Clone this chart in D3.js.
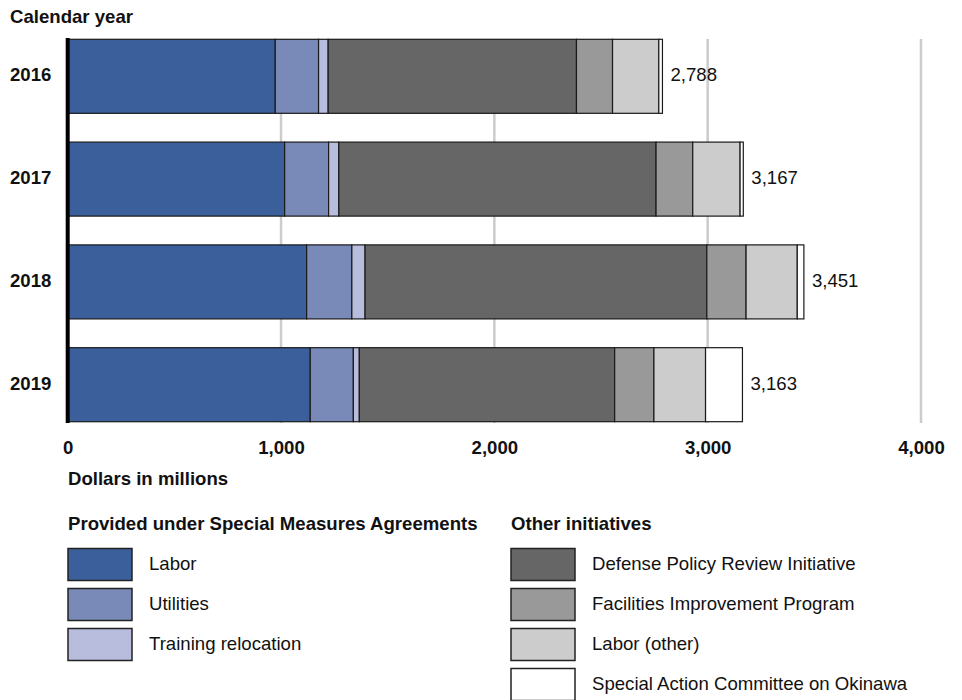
<!DOCTYPE html>
<html>
<head>
<meta charset="utf-8">
<script src="https://cdn.jsdelivr.net/npm/d3@7/dist/d3.min.js"></script>
<style>
  body { margin: 0; background: #fff; }
  svg { display: block; font-family: "Liberation Sans", Arial, sans-serif; }
</style>
</head>
<body>
<svg id="chart" width="962" height="700"></svg>
<script>
// ---- data ----
const years = ["2016", "2017", "2018", "2019"];
const labor = [973, 1017, 1120, 1137];
const utilities = [203, 206, 212, 202];
const trainingRelocation = [45, 48, 62, 28];
const dpri = [1164, 1487, 1602, 1197];
const fip = [169, 172, 184, 184];
const laborOther = [217, 222, 240, 242];
const saco = [17, 15, 31, 173];
const totals = [2788, 3167, 3451, 3163];
const xTicks = [0, 1000, 2000, 3000, 4000];

const seriesNames = ["Labor", "Utilities", "Training relocation",
  "Defense Policy Review Initiative", "Facilities Improvement Program",
  "Labor (other)", "Special Action Committee on Okinawa"];
const seriesValues = [labor, utilities, trainingRelocation, dpri, fip, laborOther, saco];
const seriesColors = ["#3a5f9b", "#7a8ab8", "#b8bcdd", "#666666", "#999999", "#cccccc", "#ffffff"];
const groupSMA = "Provided under Special Measures Agreements";
const groupOther = "Other initiatives";

const FS = 18.6;

// ---- build table ----
const rows = years.map((y, i) => {
  const r = { year: y, total: totals[i] };
  seriesNames.forEach((n, j) => r[n] = seriesValues[j][i]);
  return r;
});
const stacked = d3.stack().keys(seriesNames)(rows);

const svg = d3.select("#chart");
const x = d3.scaleLinear().domain([0, 4000]).range([67.7, 921]);
const y = d3.scaleBand().domain(years).range([39.3, 421.7]).paddingInner(0.28).paddingOuter(0);
const color = d3.scaleOrdinal().domain(seriesNames).range(seriesColors);

// gridlines
svg.append("g").selectAll("line")
  .data(xTicks.filter(t => t > 0))
  .join("line")
  .attr("x1", d => x(d)).attr("x2", d => x(d))
  .attr("y1", 39).attr("y2", 423)
  .attr("stroke", "#cccccc").attr("stroke-width", 2.5);

// bars
svg.append("g").selectAll("g")
  .data(stacked)
  .join("g")
  .attr("fill", d => color(d.key))
  .selectAll("rect")
  .data(d => d)
  .join("rect")
  .attr("x", d => x(d[0]))
  .attr("width", d => x(d[1]) - x(d[0]))
  .attr("y", d => y(d.data.year))
  .attr("height", y.bandwidth())
  .attr("stroke", "#1a1a1a")
  .attr("stroke-width", 1.2);

// vertical axis line
svg.append("line")
  .attr("x1", x(0)).attr("x2", x(0))
  .attr("y1", 38).attr("y2", 423)
  .attr("stroke", "#000").attr("stroke-width", 4);

// year labels
svg.append("g").selectAll("text")
  .data(years)
  .join("text")
  .attr("x", 10)
  .attr("y", d => y(d) + y.bandwidth() / 2 - 1.5)
  .attr("dy", "0.35em")
  .attr("font-size", FS).attr("font-weight", "bold").attr("fill", "#111")
  .text(d => d);

// total labels
svg.append("g").selectAll("text")
  .data(rows)
  .join("text")
  .attr("x", d => x(d.total) + 8)
  .attr("y", d => y(d.year) + y.bandwidth() / 2 - 1.5)
  .attr("dy", "0.35em")
  .attr("font-size", FS).attr("fill", "#111")
  .text(d => d3.format(",")(d.total));

// x axis
const xAxis = svg.append("g")
  .attr("transform", "translate(0,441)")
  .call(d3.axisBottom(x).tickValues(xTicks).tickFormat(d3.format(",")).tickSize(0).tickPadding(0));
xAxis.select(".domain").remove();
xAxis.selectAll("text")
  .attr("font-size", FS).attr("font-weight", "bold").attr("fill", "#111")
  .attr("font-family", "Liberation Sans, Arial, sans-serif");

// titles
svg.append("text").attr("x", 10).attr("y", 23)
  .attr("font-size", FS).attr("font-weight", "bold").attr("fill", "#111")
  .text("Calendar year");
svg.append("text").attr("x", 68).attr("y", 485)
  .attr("font-size", FS).attr("font-weight", "bold").attr("fill", "#111")
  .text("Dollars in millions");

// legend
const legendGroups = [
  { title: groupSMA, x: 68, items: seriesNames.slice(0, 3) },
  { title: groupOther, x: 511, items: seriesNames.slice(3) }
];
legendGroups.forEach(g => {
  const lg = svg.append("g");
  lg.append("text").attr("x", g.x).attr("y", 530)
    .attr("font-size", FS).attr("font-weight", "bold").attr("fill", "#111")
    .text(g.title);
  const it = lg.selectAll("g.item").data(g.items).join("g")
    .attr("transform", (d, i) => `translate(${g.x},${548.5 + i * 40})`);
  it.append("rect")
    .attr("width", 64).attr("height", 32)
    .attr("fill", d => color(d))
    .attr("stroke", "#222").attr("stroke-width", 1.5);
  it.append("text")
    .attr("x", 81).attr("y", 14.5).attr("dy", "0.35em")
    .attr("font-size", FS).attr("fill", "#111")
    .text(d => d);
});
</script>
</body>
</html>
